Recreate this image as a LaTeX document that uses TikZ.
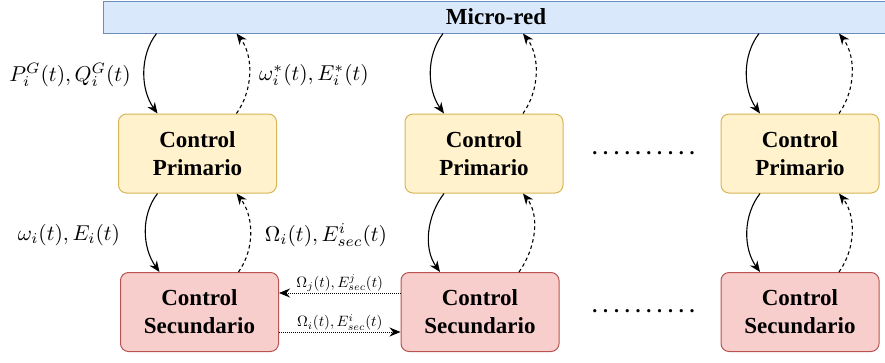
\documentclass[tikz,border=0pt]{standalone}
\usepackage{graphicx}
\usepackage[no-math]{fontspec}
\newfontfamily\boxfont{Liberation Serif}
\usetikzlibrary{arrows.meta,calc}
\definecolor{barfill}{HTML}{DAE8FC}
\definecolor{barline}{HTML}{6C8EBF}
\definecolor{primfill}{HTML}{FFF2CC}
\definecolor{primline}{HTML}{D6B656}
\definecolor{secfill}{HTML}{F8CECC}
\definecolor{secline}{HTML}{B85450}
% math labels, enlarged from the 10pt set
\newcommand\biglbl[1]{\scalebox{2.15}{$#1$}}
\newcommand\smalllbl[1]{\scalebox{1.5}{$#1$}}
\begin{document}
\begin{tikzpicture}[x=1pt,y=-1pt,
  ctrl/.style={rounded corners=8pt, line width=1pt, align=center,
    font=\boxfont\bfseries\fontsize{23}{28}\selectfont,
    minimum width=158pt, minimum height=79pt, inner sep=0pt},
  prim/.style={ctrl, fill=primfill, draw=primline},
  sec/.style={ctrl, fill=secfill, draw=secline},
  link/.style={line width=1.1pt, -{Stealth[length=11pt,width=9pt]}},
  fb/.style={link, dash pattern=on 3.5pt off 3pt},
  peer/.style={line width=1pt, dash pattern=on 1pt off 1pt, -{Stealth[length=11pt,width=9pt]}},
  lbl/.style={inner sep=1pt},
  small/.style={inner sep=1pt},
  dotrow/.style={font=\boxfont\bfseries\fontsize{20}{24}\selectfont},
]
\useasboundingbox (0,0) rectangle (885,362);

% top bar
\node[draw=barline, fill=barfill, line width=1pt, minimum width=786pt,
  minimum height=32pt, inner sep=0pt,
  font=\boxfont\bfseries\fontsize{23}{28}\selectfont] (bar) at (496,17) {Micro-red};

% control blocks
\node[prim] (p1) at (197.5,153.5) {Control\\Primario};
\node[prim] (p2) at (484,153.5) {Control\\Primario};
\node[prim] (p3) at (800,153.5) {Control\\Primario};
\node[sec] (s1) at (199.5,312) {Control\\Secundario};
\node[sec] (s2) at (480,312) {Control\\Secundario};
\node[sec] (s3) at (800,312) {Control\\Secundario};

% vertical exchanges in each column
\foreach \p/\s in {p1/s1, p2/s2, p3/s3}{
  \draw[link] ($(bar.south -| \p.north)+(-41,0)$) .. controls +(-17,22) and +(-17,-24) .. ($(\p.north)+(-40,0)$);
  \draw[fb] ($(\p.north)+(39,0)$) .. controls +(17,-24) and +(17,22) .. ($(bar.south -| \p.north)+(39,0)$);
  \draw[link] ($(\p.south)+(-40,0)$) .. controls +(-17,22) and +(-17,-24) .. ($(\s.north)+(-40,0)$);
  \draw[fb] ($(\s.north)+(39,0)$) .. controls +(17,-24) and +(17,22) .. ($(\p.south)+(39,0)$);
}

% signal labels
\node[lbl] (lPQ) at (70,75) {\biglbl{P_i^G(t), Q_i^G(t)}};
\node[lbl] (lwE) at (314,75) {\biglbl{\omega_i^*(t), E_i^*(t)}};
\node[lbl] (lw) at (69,235) {\biglbl{\omega_i(t), E_i(t)}};
\node[lbl] (lO) at (326,235) {\biglbl{\Omega_i(t), E^i_{sec}(t)}};

% neighbour communication
\draw[peer] ($(s2.west)+(0,-19)$) -- ($(s1.east)+(0,-19)$)
  node[midway, above, small] (lj) {\smalllbl{\Omega_j(t), E^j_{sec}(t)}};
\draw[peer] ($(s1.east)+(0,20)$) -- ($(s2.west)+(0,20)$)
  node[midway, above, small] (li) {\smalllbl{\Omega_i(t), E^i_{sec}(t)}};

% ellipsis between columns
\node[dotrow] (dp) at (643.5,153) {.\kern5.8pt.\kern5.8pt.\kern5.8pt.\kern5.8pt.\kern5.8pt.\kern5.8pt.\kern5.8pt.\kern5.8pt.\kern5.8pt.};
\node[dotrow] (ds) at (643.5,311) {.\kern5.8pt.\kern5.8pt.\kern5.8pt.\kern5.8pt.\kern5.8pt.\kern5.8pt.\kern5.8pt.\kern5.8pt.\kern5.8pt.};
\end{tikzpicture}
\end{document}
